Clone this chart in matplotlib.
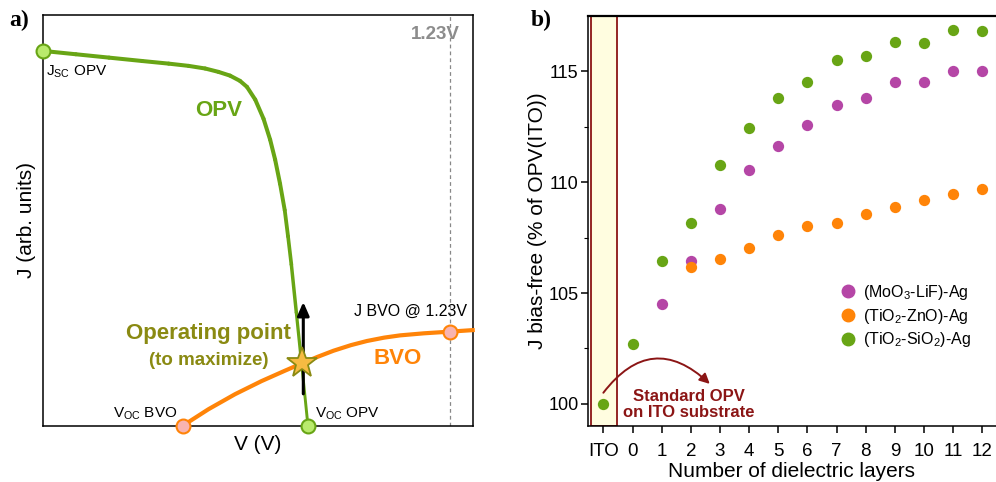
import matplotlib
matplotlib.use("Agg")
import numpy as np
import matplotlib.pyplot as plt
from matplotlib.patches import Rectangle, FancyArrowPatch
from matplotlib.lines import Line2D
from matplotlib.collections import LineCollection

plt.rcParams["font.family"] = ["Liberation Sans", "DejaVu Sans"]
plt.rcParams["mathtext.default"] = "regular"

# ---------------- panel a: schematic J-V curves ----------------
opv_v = [0.0, 0.1, 0.2, 0.3, 0.38, 0.44, 0.49, 0.53, 0.565, 0.595, 0.616,
         0.641, 0.666, 0.686, 0.701, 0.716, 0.730, 0.740, 0.750, 0.765,
         0.782, 0.800]
opv_j = [1.0, 0.991, 0.982, 0.973, 0.966, 0.960, 0.953, 0.944, 0.934, 0.920,
         0.904, 0.870, 0.819, 0.763, 0.710, 0.645, 0.575, 0.505, 0.430,
         0.302, 0.157, 0.0]

bvo_v = [0.4225, 0.5, 0.58, 0.66, 0.73, 0.781, 0.83, 0.877, 0.93, 0.978,
         1.03, 1.078, 1.15, 1.229, 1.297]
bvo_j = [0.0, 0.044, 0.084, 0.119, 0.1465, 0.166, 0.184, 0.200, 0.215,
         0.226, 0.235, 0.241, 0.2465, 0.251, 0.255]

v_water = 1.23
j_bvo_water = 0.251
op_v, op_j = 0.781, 0.166

# ---------------- panel b: bias-free current ----------------
layer_labels = ["ITO", "0", "1", "2", "3", "4", "5", "6", "7", "8", "9", "10", "11", "12"]
layer_pos = [-1, 0, 1, 2, 3, 4, 5, 6, 7, 8, 9, 10, 11, 12]

moo3_x = [1, 2, 3, 4, 5, 6, 7, 8, 9, 10, 11, 12]
moo3_y = [104.5, 106.45, 108.79, 110.57, 111.62, 112.57, 113.47, 113.82,
          114.5, 114.5, 115.01, 115.01]

zno_x = [2, 3, 4, 5, 6, 7, 8, 9, 10, 11, 12]
zno_y = [106.19, 106.52, 107.02, 107.62, 108.02, 108.17, 108.58, 108.89,
         109.19, 109.45, 109.70]

sio2_x = [-1, 0, 1, 2, 3, 4, 5, 6, 7, 8, 9, 10, 11, 12]
sio2_y = [100.0, 102.71, 106.46, 108.17, 110.77, 112.45, 113.82, 114.5,
          115.5, 115.68, 116.34, 116.3, 116.85, 116.81]

GREEN = "#68a515"
ORANGE = "#ff8408"
PURPLE = "#b546a6"
DARKRED = "#8b1515"
OLIVE = "#8a8a12"

fig = plt.figure(figsize=(9.96, 4.82), dpi=100)

# ---- panel a ----
axa = fig.add_axes([0.0429, 0.1168, 0.4317, 0.8515])
axa.set_xlim(0, 1.297)
axa.set_ylim(0, 1.095)
axa.set_xticks([])
axa.set_yticks([])
for s in axa.spines.values():
    s.set_linewidth(1.1)
axa.axvline(v_water, color="#888888", lw=0.9, ls=(0, (3, 2.5)), zorder=1)

# OPV curve: the steep part of the stroke is drawn slightly thinner
pts = np.column_stack([opv_v, opv_j])
segs = np.stack([pts[:-1], pts[1:]], axis=1)
jmid = 0.5 * (pts[:-1, 1] + pts[1:, 1])
widths = 2.9 - 0.9 * np.clip((0.65 - jmid) / 0.65, 0, 1)
lc = LineCollection(segs, colors=GREEN, linewidths=widths, capstyle="round",
                    joinstyle="round", zorder=3, clip_on=False)
axa.add_collection(lc)
axa.plot(bvo_v, bvo_j, color=ORANGE, lw=3.0, solid_joinstyle="round",
         zorder=3, clip_on=False)
axa.annotate("", xy=(0.786, 0.33), xytext=(0.786, 0.085),
             arrowprops=dict(arrowstyle="-|>,head_length=0.8,head_width=0.35",
                             color="black", lw=2.2, shrinkA=0, shrinkB=0),
             zorder=4)
axa.plot([op_v], [op_j], marker="*", ms=23, mfc="#f6bb42", mec="#8a8a12",
         mew=1.3, zorder=5)
axa.plot([opv_v[0], opv_v[-1]], [opv_j[0], opv_j[-1]], ls="none", marker="o",
         ms=10, mfc="#b9ea6c", mec=GREEN, mew=1.5, zorder=6, clip_on=False)
axa.plot([bvo_v[0], v_water], [bvo_j[0], j_bvo_water], ls="none", marker="o",
         ms=10, mfc="#f8b4b0", mec=ORANGE, mew=1.5, zorder=6, clip_on=False)

axa.text(0.01, 0.945, r"J$_{SC}$ OPV", fontsize=11, ha="left", va="center")
axa.text(0.53, 0.84, "OPV", fontsize=16, fontweight="bold", color=GREEN,
         ha="center", va="center")
axa.text(1.07, 0.18, "BVO", fontsize=16, fontweight="bold", color=ORANGE,
         ha="center", va="center")
axa.text(0.50, 0.245, "Operating point", fontsize=16, fontweight="bold",
         color=OLIVE, ha="center", va="center")
axa.text(0.50, 0.175, "(to maximize)", fontsize=13.5, fontweight="bold",
         color=OLIVE, ha="center", va="center")
axa.text(1.11, 0.306, "J BVO @ 1.23V", fontsize=11.5, ha="center", va="center")
axa.text(0.405, 0.033, r"V$_{OC}$ BVO", fontsize=11, ha="right", va="center")
axa.text(0.82, 0.033, r"V$_{OC}$ OPV", fontsize=11, ha="left", va="center")
axa.text(1.257, 1.043, "1.23V", fontsize=13.5, fontweight="bold",
         color="#8c8c8c", ha="right", va="center")
axa.set_xlabel("V (V)", fontsize=15, labelpad=7)
axa.set_ylabel("J (arb. units)", fontsize=15, labelpad=5)

# ---- panel b ----
axb = fig.add_axes([0.5907, 0.1162, 0.4088, 0.8506])
axb.set_xlim(-1.515, 12.45)
axb.set_ylim(99.0, 117.5)
axb.spines["right"].set_color("#dddddd")
axb.spines["right"].set_linewidth(0.8)
axb.spines["top"].set_linewidth(1.6)
axb.spines["left"].set_linewidth(1.1)
axb.spines["bottom"].set_linewidth(1.1)
axb.add_patch(Rectangle((-1.44, 99.0), 0.92, 18.5, facecolor="#fffde0",
                        edgecolor=DARKRED, lw=1.3, zorder=1))
axb.set_xticks(layer_pos)
axb.set_xticklabels(layer_labels)
axb.set_yticks([100, 105, 110, 115])
axb.set_yticks([102.5, 107.5, 112.5], minor=True)
axb.tick_params(axis="x", which="major", direction="out", length=5,
                width=1.1, labelsize=13.5, pad=7)
axb.tick_params(axis="y", which="major", direction="out", length=5,
                width=1.1, labelsize=13, pad=2)
axb.tick_params(axis="y", which="minor", direction="out", length=3, width=0.8)

ms = 66
axb.scatter(moo3_x, moo3_y, s=ms, color=PURPLE, zorder=3, linewidths=0)
axb.scatter(zno_x, zno_y, s=ms, color=ORANGE, zorder=4, linewidths=0)
axb.scatter(sio2_x, sio2_y, s=ms, color=GREEN, zorder=4, linewidths=0)

axb.add_patch(FancyArrowPatch((-1.0, 100.5), (2.65, 100.9),
                              connectionstyle="arc3,rad=-0.55",
                              arrowstyle="-|>,head_length=6,head_width=3",
                              color=DARKRED, lw=1.4, zorder=5,
                              shrinkA=0, shrinkB=0))
axb.text(1.92, 99.97, "Standard OPV\non ITO substrate", fontsize=12,
         fontweight="bold", color=DARKRED, ha="center", va="center",
         linespacing=1.15)

handles = [Line2D([], [], ls="none", marker="o", ms=9, mfc=c, mec=c)
           for c in (PURPLE, ORANGE, GREEN)]
labels = [r"(MoO$_3$-LiF)-Ag", r"(TiO$_2$-ZnO)-Ag", r"(TiO$_2$-SiO$_2$)-Ag"]
axb.legend(handles, labels, loc="center left", bbox_to_anchor=(0.58, 0.268),
           frameon=False, fontsize=11.5, handletextpad=0.3, labelspacing=0.3,
           handlelength=1.2)

axb.set_xlabel("Number of dielectric layers", fontsize=15, labelpad=2)
axb.set_ylabel("J bias-free (% of OPV(ITO))", fontsize=15, labelpad=1)

fig.text(0.009, 0.945, "a)", fontsize=17, fontweight="bold",
         family="Liberation Serif")
fig.text(0.533, 0.945, "b)", fontsize=17, fontweight="bold",
         family="Liberation Serif")

fig.savefig("out.png", dpi=100)
